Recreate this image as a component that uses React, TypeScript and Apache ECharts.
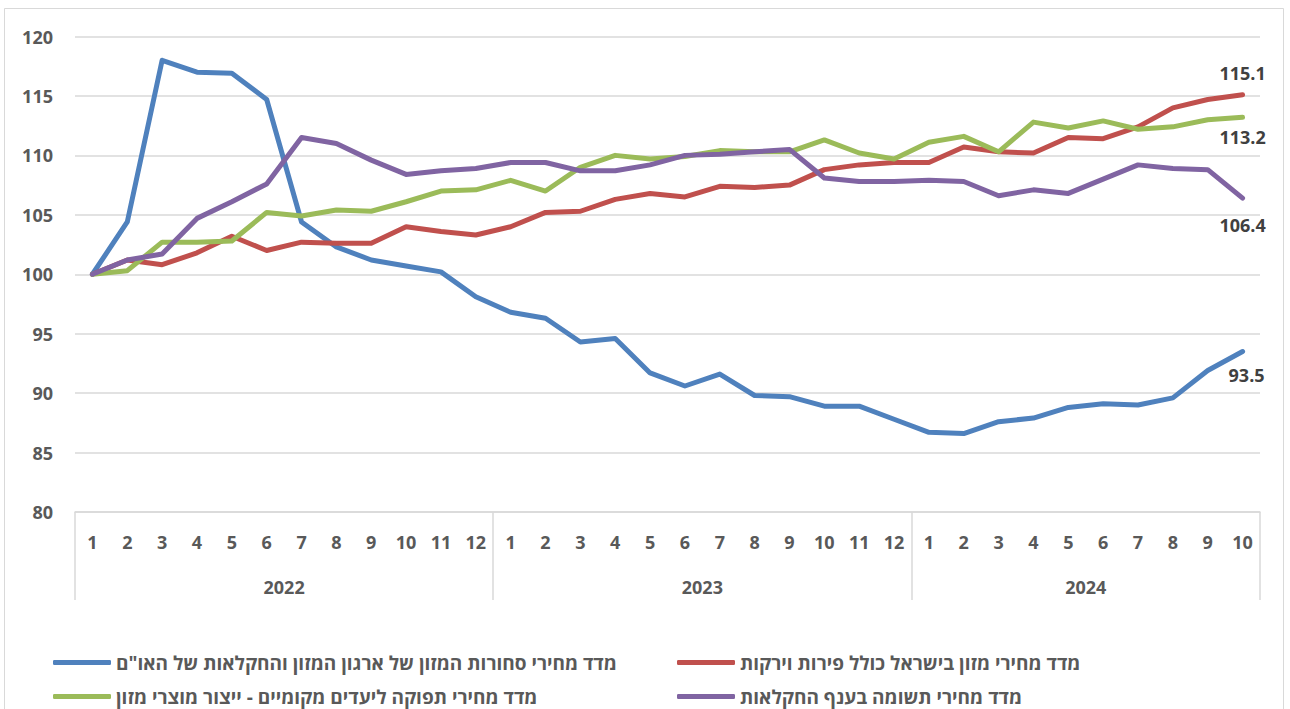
import React, { useEffect, useRef } from "react";
import * as echarts from "echarts";

const months = [
  "1","2","3","4","5","6","7","8","9","10","11","12",
  "1","2","3","4","5","6","7","8","9","10","11","12",
  "1","2","3","4","5","6","7","8","9","10",
];
const yearLabels = ["2022", "2023", "2024"];
const yearLabelPositions = [6, 18, 29];
const yearBoundaries = [0, 12, 24, 34];

const seriesNames = [
  'מדד מחירי סחורות המזון של ארגון המזון והחקלאות של האו"ם',
  "מדד מחירי מזון בישראל כולל פירות וירקות",
  "מדד מחירי תפוקה ליעדים מקומיים - ייצור מוצרי מזון",
  "מדד מחירי תשומה בענף החקלאות",
];
const colors = ["#4F81BD", "#C0504D", "#9BBB59", "#8064A2"];

const faoFood = [
  100, 104.4, 118.0, 117.0, 116.9, 114.7, 104.4, 102.3, 101.2, 100.7, 100.2, 98.1,
  96.8, 96.3, 94.3, 94.6, 91.7, 90.6, 91.6, 89.8, 89.7, 88.9, 88.9, 87.8,
  86.7, 86.6, 87.6, 87.9, 88.8, 89.1, 89.0, 89.6, 91.9, 93.5,
];
const israelFood = [
  100, 101.2, 100.8, 101.8, 103.2, 102.0, 102.7, 102.6, 102.6, 104.0, 103.6, 103.3,
  104.0, 105.2, 105.3, 106.3, 106.8, 106.5, 107.4, 107.3, 107.5, 108.8, 109.2, 109.4,
  109.4, 110.7, 110.3, 110.2, 111.5, 111.4, 112.4, 114.0, 114.7, 115.1,
];
const producerOutput = [
  100, 100.3, 102.7, 102.7, 102.8, 105.2, 104.9, 105.4, 105.3, 106.1, 107.0, 107.1,
  107.9, 107.0, 109.0, 110.0, 109.7, 109.9, 110.4, 110.3, 110.3, 111.3, 110.2, 109.7,
  111.1, 111.6, 110.3, 112.8, 112.3, 112.9, 112.2, 112.4, 113.0, 113.2,
];
const agriInput = [
  100, 101.2, 101.7, 104.7, 106.1, 107.6, 111.5, 111.0, 109.6, 108.4, 108.7, 108.9,
  109.4, 109.4, 108.7, 108.7, 109.2, 110.0, 110.1, 110.3, 110.5, 108.1, 107.8, 107.8,
  107.9, 107.8, 106.6, 107.1, 106.8, 108.0, 109.2, 108.9, 108.8, 106.4,
];
const seriesValues = [faoFood, israelFood, producerOutput, agriInput];
const endLabelPlacement = [
  { position: "bottom", distance: 14, offset: [4, 0] },
  { position: "top", distance: 13, offset: [0, 0] },
  { position: "bottom", distance: 11, offset: [0, 0] },
  { position: "bottom", distance: 18, offset: [0, 0] },
];

const numFont = "'Open Sans', 'Noto Sans', 'Liberation Sans', sans-serif";
const hebFont = "'Open Sans', 'Liberation Sans', 'DejaVu Sans', sans-serif";
const legendPos = [
  { left: 48, top: 648 },
  { left: 672, top: 648 },
  { left: 48, top: 682 },
  { left: 672, top: 682 },
];

export default function App() {
  const ref = useRef<HTMLDivElement>(null);
  useEffect(() => {
    document.body.style.margin = "0";
    if (!ref.current) return;
    const chart = echarts.init(ref.current, null, { renderer: "svg" });
    const last = months.length - 1;
    const series = seriesValues.map((vals, si) => ({
      name: seriesNames[si],
      type: "line",
      xAxisIndex: 0,
      yAxisIndex: 0,
      symbol: "circle",
      symbolSize: 0.01,
      showSymbol: true,
      z: 2 + si,
      lineStyle: { color: colors[si], width: 5, cap: "round", join: "round" },
      itemStyle: { color: colors[si] },
      label: { show: false },
      data: vals.map((v, i) =>
        i === last
          ? {
              value: v,
              label: {
                show: true,
                position: endLabelPlacement[si].position,
                distance: endLabelPlacement[si].distance,
                offset: endLabelPlacement[si].offset,
                formatter: v.toFixed(1),
                color: "#404040",
                fontSize: 18,
                fontWeight: "bold",
                fontFamily: numFont,
              },
            }
          : v
      ),
    }));
    chart.setOption({
      animation: false,
      backgroundColor: "#ffffff",
      grid: { left: 75, right: 30, top: 36.5, bottom: 197 },
      graphic: [
        {
          type: "rect",
          shape: { x: 4.5, y: 8.5, width: 1279, height: 720 },
          style: { fill: "none", stroke: "#d9d9d9", lineWidth: 1 },
          silent: true,
        },
      ],
      legend: seriesNames.map((n, i) => ({
        show: true,
        left: legendPos[i].left,
        top: legendPos[i].top,
        data: [n],
        icon: "roundRect",
        itemWidth: 58,
        itemHeight: 5,
        itemGap: 4,
        textStyle: {
          color: "#595959",
          fontSize: 19,
          fontWeight: "bold",
          fontFamily: hebFont,
        },
        selectedMode: false,
      })),
      xAxis: [
        {
          type: "category",
          data: months,
          position: "bottom",
          boundaryGap: true,
          axisLine: { show: true, lineStyle: { color: "#d9d9d9", width: 1.5 } },
          axisTick: { show: false },
          splitLine: { show: false },
          axisLabel: {
            interval: 0,
            margin: 21,
            color: "#595959",
            fontSize: 18,
            fontWeight: "bold",
            fontFamily: numFont,
          },
        },
        {
          type: "value",
          min: 0,
          max: 34,
          position: "bottom",
          axisLine: { show: false },
          splitLine: { show: false },
          axisTick: {
            show: true,
            customValues: yearBoundaries,
            length: 88,
            lineStyle: { color: "#d9d9d9", width: 1.5 },
          },
          axisLabel: {
            show: true,
            customValues: yearLabelPositions,
            formatter: (v: number) => yearLabels[yearLabelPositions.indexOf(Math.round(v))] ?? "",
            margin: 66,
            color: "#595959",
            fontSize: 18,
            fontWeight: "bold",
            fontFamily: numFont,
          },
        },
      ],
      yAxis: {
        type: "value",
        min: 80,
        max: 120,
        interval: 5,
        axisLine: { show: false },
        axisTick: { show: false },
        splitLine: { lineStyle: { color: "#d9d9d9", width: 1.5 } },
        axisLabel: {
          margin: 22,
          color: "#595959",
          fontSize: 18,
          fontWeight: "bold",
          fontFamily: numFont,
        },
      },
      series,
    });
    return () => chart.dispose();
  }, []);
  return <div ref={ref} style={{ width: 1290, height: 709 }} />;
}
